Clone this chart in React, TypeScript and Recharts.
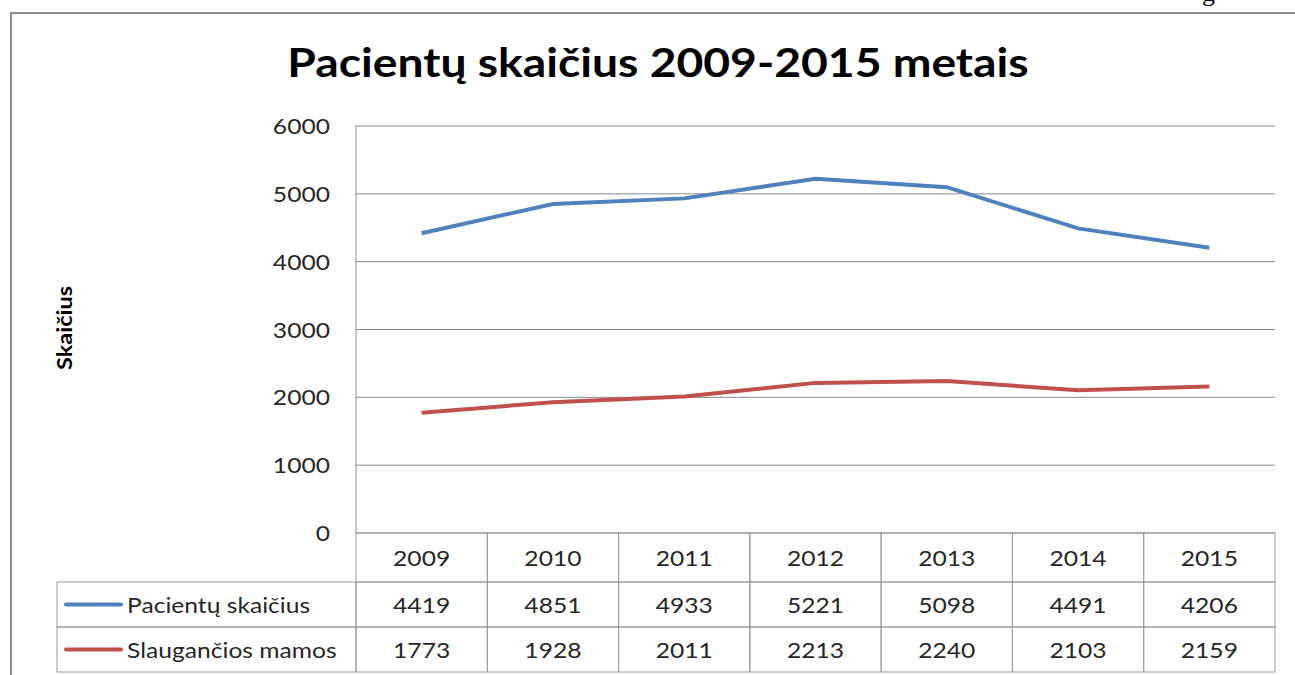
import React from 'react';
import { LineChart, Line, XAxis, YAxis, CartesianGrid } from 'recharts';

const years = ['2009', '2010', '2011', '2012', '2013', '2014', '2015'];
const patients = [4419, 4851, 4933, 5221, 5098, 4491, 4206];
const nursingMoms = [1773, 1928, 2011, 2213, 2240, 2103, 2159];
const yTicks = [0, 1000, 2000, 3000, 4000, 5000, 6000];

const seriesNames = ['Pacientų skaičius', 'Slaugančios mamos'];
const seriesColors = ['#4F81BD', '#C0504D'];

const data = years.map((year, i) => ({
  year,
  patients: patients[i],
  nursingMoms: nursingMoms[i],
}));

const W = 1295;
const H = 675;
const PLOT_LEFT = 356;
const PLOT_RIGHT = 1275;
const PLOT_TOP = 126;
const PLOT_BOTTOM = 533;
const LEGEND_LEFT = 57;
const ROW_TOPS = [533, 582, 627];
const ROW_HS = [49, 45, 45];
const COL_W = (PLOT_RIGHT - PLOT_LEFT) / years.length;
const FONT = 'Lato, "Open Sans", sans-serif';
const FS = 22;
const SX = 1.12; // reference text is a bit wider than Lato
const BORDER = '#9a9a9a';
const TEXT = '#262626';

// scaled text helper
const WideText = ({ x, y, anchor = 'middle', children }: any) => (
  <text
    transform={`translate(${x},${y}) scale(${SX},1)`}
    textAnchor={anchor}
    fontSize={FS}
    fontFamily={FONT}
    fill={TEXT}
  >
    {children}
  </text>
);

const TableColumn = (props: any) => {
  const { x, index } = props;
  const left = x - COL_W / 2;
  const cells = [years[index], String(patients[index]), String(nursingMoms[index])];
  return (
    <g>
      {cells.map((txt, r) => (
        <g key={r}>
          <rect
            x={left}
            y={ROW_TOPS[r]}
            width={COL_W}
            height={ROW_HS[r]}
            fill="none"
            stroke={BORDER}
            strokeWidth={1}
          />
          <WideText x={x} y={ROW_TOPS[r] + ROW_HS[r] / 2 + 8}>
            {txt}
          </WideText>
        </g>
      ))}
      {index === 0 &&
        seriesNames.map((name, i) => {
          const r = i + 1;
          const mid = ROW_TOPS[r] + ROW_HS[r] / 2;
          return (
            <g key={name}>
              <rect
                x={LEGEND_LEFT}
                y={ROW_TOPS[r]}
                width={left - LEGEND_LEFT}
                height={ROW_HS[r]}
                fill="none"
                stroke={BORDER}
                strokeWidth={1}
              />
              <line
                x1={LEGEND_LEFT + 9}
                x2={LEGEND_LEFT + 64}
                y1={mid}
                y2={mid}
                stroke={seriesColors[i]}
                strokeWidth={4}
                strokeLinecap="round"
              />
              <WideText x={LEGEND_LEFT + 70} y={mid + 8} anchor="start">
                {name}
              </WideText>
            </g>
          );
        })}
    </g>
  );
};

const YTick = (props: any) => {
  const { x, y, payload } = props;
  return (
    <WideText x={x} y={y + 8} anchor="end">
      {payload.value}
    </WideText>
  );
};

export default function App() {
  return (
    <div
      style={{
        position: 'absolute',
        left: 0,
        top: 0,
        width: W,
        height: H,
        overflow: 'hidden',
        background: '#fff',
        fontFamily: FONT,
      }}
    >
      <div
        style={{
          position: 'absolute',
          left: 10,
          top: 12,
          width: 1310,
          height: 700,
          border: '2px solid #8c8c8c',
        }}
      />
      <div
        style={{
          position: 'absolute',
          left: 1202,
          top: -22,
          fontFamily: '"Liberation Serif", serif',
          fontSize: 26,
          color: '#000',
        }}
      >
        g
      </div>
      <div
        style={{
          position: 'absolute',
          left: 10,
          width: 1296,
          top: 38,
          textAlign: 'center',
          fontSize: 40,
          fontWeight: 700,
          color: '#000',
          transform: 'scaleX(1.156)',
        }}
      >
        Pacientų skaičius 2009-2015 metais
      </div>
      <div
        style={{
          position: 'absolute',
          left: 63,
          top: 328,
          transform: 'translate(-50%, -50%) rotate(-90deg) scaleX(1.12)',
          fontSize: 21,
          fontWeight: 700,
          color: '#000',
          whiteSpace: 'nowrap',
        }}
      >
        Skaičius
      </div>
      <div style={{ position: 'absolute', left: 0, top: 0 }}>
        <LineChart
          width={W}
          height={H}
          data={data}
          margin={{ top: PLOT_TOP, right: W - PLOT_RIGHT, bottom: 0, left: 0 }}
        >
          <CartesianGrid vertical={false} stroke="#8a8a8a" strokeWidth={1} />
          <XAxis
            dataKey="year"
            height={H - PLOT_BOTTOM}
            axisLine={false}
            tickLine={false}
            tickSize={0}
            interval={0}
            padding={{ left: COL_W / 2, right: COL_W / 2 }}
            tick={<TableColumn />}
          />
          <YAxis
            width={PLOT_LEFT}
            domain={[0, 6000]}
            ticks={yTicks}
            axisLine={{ stroke: '#8a8a8a' }}
            tickLine={false}
            tickSize={0}
            tickMargin={26}
            tick={<YTick />}
          />
          <Line
            dataKey="patients"
            name={seriesNames[0]}
            type="linear"
            stroke={seriesColors[0]}
            strokeWidth={4}
            dot={false}
            isAnimationActive={false}
          />
          <Line
            dataKey="nursingMoms"
            name={seriesNames[1]}
            type="linear"
            stroke={seriesColors[1]}
            strokeWidth={4}
            dot={false}
            isAnimationActive={false}
          />
        </LineChart>
      </div>
    </div>
  );
}
